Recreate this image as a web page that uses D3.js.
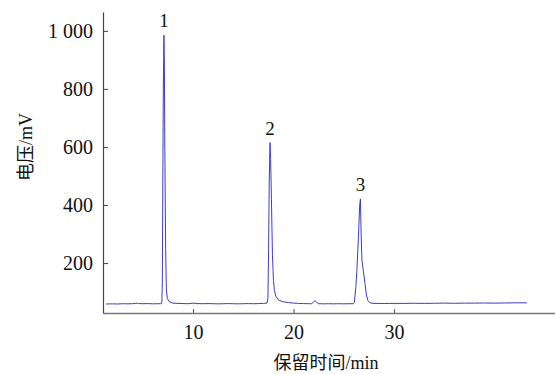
<!DOCTYPE html>
<html>
<head>
<meta charset="utf-8">
<script src="https://cdn.jsdelivr.net/npm/d3@7"></script>
<style>
html,body{margin:0;padding:0;background:#fff;}
svg{display:block;}
text{font-family:"Liberation Serif","Times New Roman","Noto Sans CJK SC",serif;fill:#111;}
</style>
</head>
<body>
<svg id="chart" width="555" height="374"></svg>
<script>
// Retention time (min) and detector voltage (mV)
const times = [
  1.35, 2.0, 2.5, 3.0, 3.5, 4.0, 4.3, 4.45, 4.6, 5.0, 5.5, 6.0, 6.5, 6.8, 6.9,
  6.95, 7.0, 7.05, 7.11, 7.15, 7.2, 7.28, 7.35, 7.45, 7.6, 7.8, 8.0, 8.5, 9.0,
  9.5, 9.9, 10.1, 10.3, 11.0, 11.5, 12.0, 12.5, 13.0, 13.5, 14.0, 14.5, 15.0,
  15.5, 16.0, 16.5, 17.0, 17.35, 17.45, 17.52, 17.58, 17.66, 17.72, 17.8, 17.9,
  18.0, 18.1, 18.25, 18.5, 18.9, 19.5, 20.0, 20.5, 21.0, 21.5, 21.8, 22.0,
  22.15, 22.3, 22.5, 23.0, 23.5, 24.0, 24.5, 25.0, 25.5, 25.95, 26.05, 26.2,
  26.3, 26.45, 26.58, 26.65, 26.72, 26.8, 26.95, 27.1, 27.25, 27.4, 27.6, 28.0,
  28.5, 29.0, 29.5, 30.0, 31.0, 32.0, 33.0, 34.0, 35.0, 36.0, 37.0, 38.0, 39.0,
  40.0, 41.0, 42.0, 43.2
];
const voltage = [
  59, 59.5, 59, 60, 59.5, 60, 61, 62, 60.5, 60, 60.5, 59.5, 60, 60, 62,
  130, 480, 800, 985, 900, 600, 250, 110, 78, 68, 64, 62, 61, 60.5,
  60, 61.5, 62, 60.5, 60, 60.5, 60, 59.5, 60, 60.5, 60, 59.5, 60,
  60.5, 60, 60.5, 61, 62, 78, 250, 480, 615, 560, 420, 230,
  140, 105, 85, 73, 67, 64, 62, 61, 60.5, 60, 60, 66,
  71, 64, 60, 59.5, 60, 59.5, 60, 59.5, 60, 60, 65, 120,
  175, 290, 400, 421, 300, 210, 170, 130, 90, 70, 63, 61,
  61, 60.5, 61, 61, 61, 61.5, 61, 61.5, 62, 61.5, 62, 62, 62.5,
  62, 62.5, 63, 63
];
const peakLabels = ["1", "2", "3"];
const peakTimes = [7.11, 17.66, 26.65];
const peakHeights = [985, 615, 421];
const xTicks = [10, 20, 30];
const yTicks = [200, 400, 600, 800, 1000];
const xTitle = "保留时间/min";
const yTitle = "电压/mV";

const svg = d3.select("#chart");
const x = d3.scaleLinear().domain([1.05, 46]).range([103, 555]);
const y = d3.scaleLinear().domain([28, 1065]).range([313, 12]);

const fmt = v => v >= 1000 ? d3.format(",")(v).replace(",", "\u00a0") : String(v);

// axes
const gx = svg.append("g").attr("transform", `translate(0,${y.range()[0]})`)
  .call(d3.axisBottom(x).tickValues(xTicks).tickSizeInner(-4).tickSizeOuter(0).tickPadding(12));
gx.select(".domain").attr("stroke", "#777").attr("stroke-width", 1.3);
gx.selectAll(".tick line").attr("stroke", "#555");
gx.selectAll(".tick text").attr("font-size", 20).attr("fill", "#111")
  .attr("font-family", '"Liberation Serif","Times New Roman",serif');

const gy = svg.append("g").attr("transform", `translate(${x.range()[0]},0)`)
  .call(d3.axisLeft(y).tickValues(yTicks).tickFormat(fmt).tickSizeInner(-5).tickSizeOuter(0).tickPadding(10));
gy.select(".domain").attr("stroke", "#444").attr("stroke-width", 1.2);
gy.selectAll(".tick line").attr("stroke", "#444");
gy.selectAll(".tick text").attr("font-size", 20).attr("fill", "#111")
  .attr("font-family", '"Liberation Serif","Times New Roman",serif');

// trace
const data = times.map((t, i) => [t, voltage[i]]);
svg.append("path").datum(data)
  .attr("fill", "none").attr("stroke", "#3d3dc4").attr("stroke-width", 1)
  .attr("stroke-linejoin", "round")
  .attr("d", d3.line().x(d => x(d[0])).y(d => y(d[1])));

// peak labels
svg.selectAll(".pk").data(peakLabels).join("text")
  .attr("class", "pk")
  .attr("x", (d, i) => x(peakTimes[i]))
  .attr("y", (d, i) => y(peakHeights[i]) - 8)
  .attr("text-anchor", "middle").attr("font-size", 19)
  .text(d => d);

// titles
svg.append("text").attr("x", 326).attr("y", 369).attr("text-anchor", "middle")
  .attr("font-size", 18).text(xTitle);
svg.append("text").attr("transform", "translate(32,147) rotate(-90)")
  .attr("text-anchor", "middle").attr("font-size", 18).text(yTitle);
</script>
</body>
</html>
